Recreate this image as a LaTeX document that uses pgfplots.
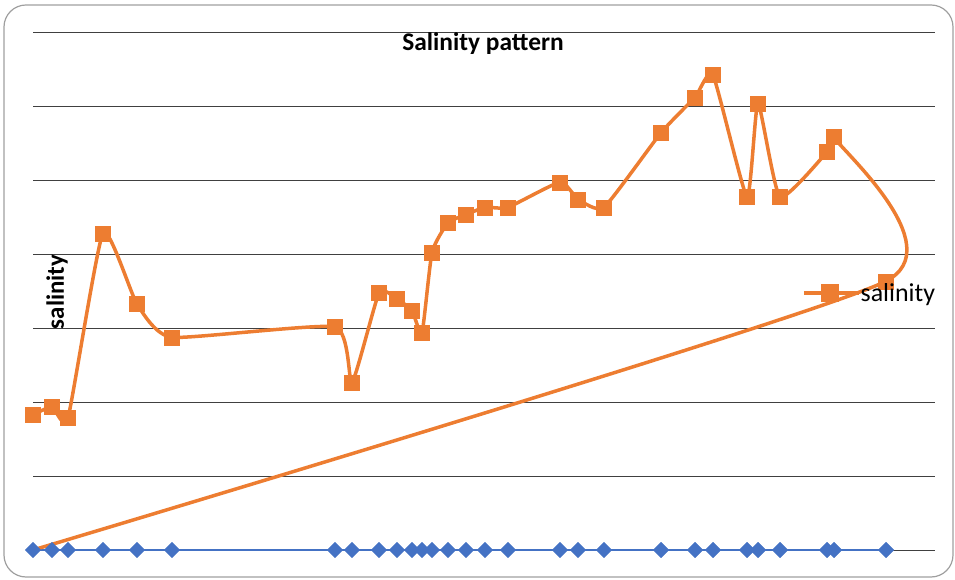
\documentclass[border=0pt]{standalone}
\usepackage{fontspec}
\setmainfont{Carlito}
\usepackage{pgfplots}
\pgfplotsset{compat=1.18}
\definecolor{xlorange}{HTML}{ED7D31}
\definecolor{xlblue}{HTML}{4472C4}
\definecolor{gridc}{HTML}{404040}
\begin{document}
\begin{tikzpicture}
\begin{axis}[
  name=ax,
  at={(0,0)}, anchor=south west,
  width=902bp, height=517bp, scale only axis,
  xmin=0, xmax=902, ymin=0, ymax=7,
  ytick={0,1,2,3,4,5,6,7}, yticklabels={},
  xtick=\empty,
  ymajorgrids,
  grid style={gridc, line width=1bp},
  axis line style={draw=none},
  tick style={draw=none},
  clip=false,
  legend style={at={(axis cs:769,3.48)}, anchor=west, draw=none, fill=none,
    font=\fontsize{26}{28}\selectfont, inner sep=0pt,
    nodes={inner xsep=0pt, inner ysep=0pt}},
  legend image code/.code={\draw (0bp,0bp) -- (52bp,0bp);
    \path[fill] (18.5bp,-7.5bp) rectangle (33.5bp,7.5bp);
    \path (52bp,0bp) -- (55bp,0bp);},
]
% blue series (x positions along the base)
\addplot[xlblue, line width=1.5bp, mark=square*, mark size=5.5bp,
  mark options={rotate=45, fill=xlblue, draw=xlblue, line width=0.3bp}, forget plot]
coordinates {
(0,0) (19,0) (35,0) (70,0) (104,0) (139,0) (302,0) (319,0) (346,0) (364,0)
(379,0) (389,0) (399,0) (415,0) (433,0) (452,0) (475,0) (527,0) (545,0) (571,0)
(628,0) (662,0) (680,0) (714,0) (725,0) (747,0) (794,0) (801,0) (853,0)
};
% salinity
\addplot[xlorange, line width=3.5bp, smooth, tension=0.3, mark=square*, mark size=7.5bp,
  mark indices={1,...,29},
  mark options={fill=xlorange, draw=xlorange, line width=0.3bp}]
coordinates {
(0,1.83) (19,1.94) (35,1.79) (70,4.29) (104,3.33) (139,2.88) (302,3.02)
(319,2.27) (346,3.48) (364,3.40) (379,3.24) (389,2.94) (399,4.03) (415,4.43)
(433,4.54) (452,4.64) (475,4.64) (527,4.98) (545,4.75) (571,4.64) (628,5.65)
(662,6.13) (680,6.43) (714,4.78) (725,6.05) (747,4.78) (794,5.39) (801,5.59)
(853,3.64) (0,0)
};
\addlegendentry{salinity}
\end{axis}
\node[font=\bfseries\fontsize{25.5}{28}\selectfont] at ([shift={(450bp,506bp)}]ax.south west) {Salinity pattern};
\node[font=\bfseries\fontsize{25}{28}\selectfont, rotate=90] at ([shift={(24bp,258bp)}]ax.south west) {salinity};
\draw[gray!75, line width=1.2bp, rounded corners=22bp]
  ([shift={(-29bp,-27bp)}]ax.south west) rectangle ([shift={(920bp,545bp)}]ax.south west);
\pgfresetboundingbox
\path[use as bounding box] ([shift={(-33bp,-30bp)}]ax.south west) rectangle ([shift={(922bp,550bp)}]ax.south west);
\end{tikzpicture}
\end{document}
